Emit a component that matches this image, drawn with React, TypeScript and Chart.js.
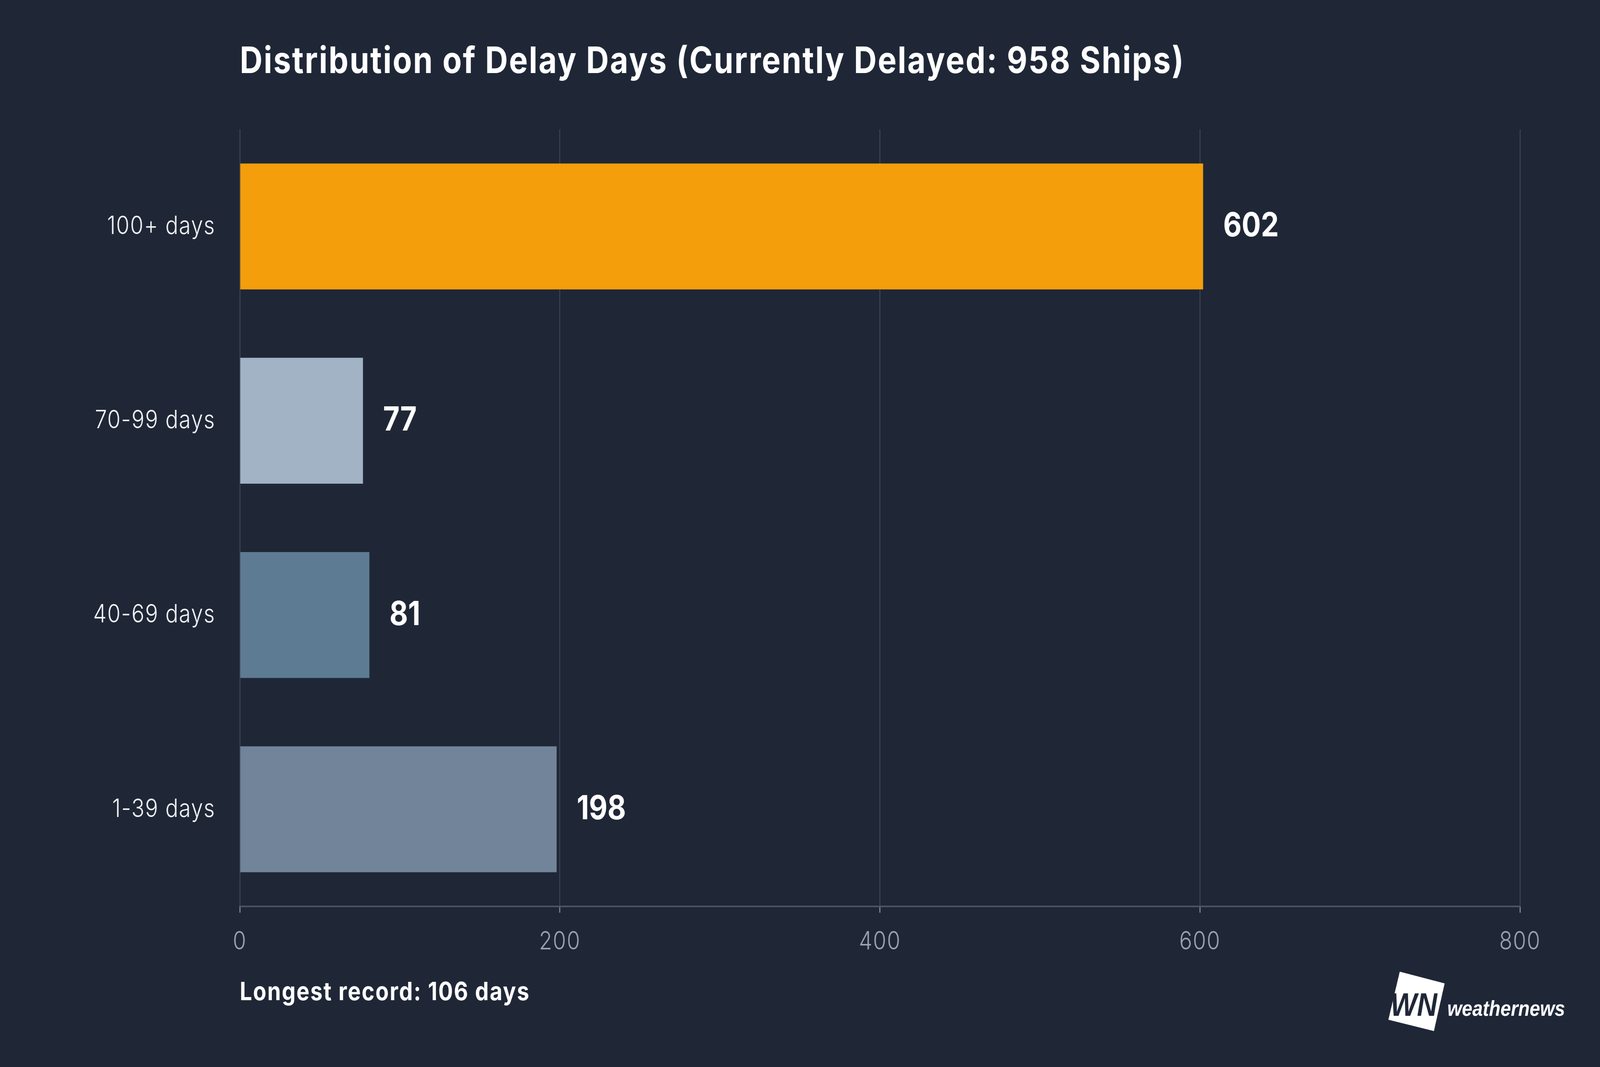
import { useEffect, useRef } from "react";
import { Chart, registerables } from "chart.js";

Chart.register(...registerables);

const categories = ["100+ days", "70-99 days", "40-69 days", "1-39 days"];
const shipCounts = [602, 77, 81, 198];
const barColors = ["#f59e0b", "#a2b3c6", "#5e7b94", "#718499"];
const xMin = 0;
const xMax = 800;
const xStep = 200;
const titleText = "Distribution of Delay Days (Currently Delayed: 958 Ships)";
const footnoteText = "Longest record: 106 days";
const brandMark = "WN";
const brandText = "weathernews";

const W = 4778;
const H = 2731;
const BG = "#1f2737";
const FONT = "Inter, 'Noto Sans', sans-serif";

const overlay = {
  id: "overlay",
  beforeDraw(chart: any) {
    const ctx = chart.ctx;
    ctx.save();
    ctx.fillStyle = BG;
    ctx.fillRect(0, 0, chart.width, chart.height);
    ctx.restore();
    (ctx as any).letterSpacing = "2px";
  },
  beforeDatasetsDraw(chart: any) {
    (chart.ctx as any).letterSpacing = "0px";
  },
  afterDatasetsDraw(chart: any) {
    const ctx = chart.ctx;
    const meta = chart.getDatasetMeta(0);
    ctx.save();
    ctx.fillStyle = "#ffffff";
    ctx.font = `700 85px ${FONT}`;
    ctx.textAlign = "left";
    ctx.textBaseline = "middle";
    meta.data.forEach((bar: any, i: number) => {
      ctx.fillText(String(shipCounts[i]), bar.x + 60, bar.y);
    });
    ctx.restore();
  },
  afterDraw(chart: any) {
    const ctx = chart.ctx;
    const left = chart.chartArea.left;
    ctx.save();
    ctx.fillStyle = "#ffffff";
    ctx.textAlign = "left";
    ctx.textBaseline = "alphabetic";
    ctx.font = `700 94px ${FONT}`;
    (ctx as any).letterSpacing = "3.4px";
    ctx.fillText(titleText, left, 187);
    ctx.font = `700 65px ${FONT}`;
    (ctx as any).letterSpacing = "2.8px";
    ctx.fillText(footnoteText, left, 2560);
    (ctx as any).letterSpacing = "0px";

    // brand logo
    ctx.beginPath();
    ctx.moveTo(4180, 2487);
    ctx.lineTo(4314, 2517);
    ctx.lineTo(4282, 2639);
    ctx.lineTo(4146, 2610);
    ctx.closePath();
    ctx.fillStyle = "#ffffff";
    ctx.fill();
    ctx.fillStyle = BG;
    ctx.font = `italic 700 84px 'Liberation Sans Narrow', 'Liberation Sans', sans-serif`;
    ctx.fillText(brandMark, 4152, 2600);
    ctx.fillStyle = "#ffffff";
    ctx.font = `italic 700 56px 'Liberation Sans Narrow', 'Liberation Sans', sans-serif`;
    ctx.fillText(brandText, 4322, 2600);
    ctx.restore();
  },
};

export default function App() {
  const ref = useRef<HTMLCanvasElement>(null);

  useEffect(() => {
    document.body.style.margin = "0";
    document.body.style.background = BG;
    const canvas = ref.current!;
    const chart = new Chart(canvas, {
      type: "bar",
      data: {
        labels: categories,
        datasets: [
          {
            data: shipCounts,
            backgroundColor: barColors,
            borderWidth: 0,
            categoryPercentage: 0.8,
            barPercentage: 0.81,
          },
        ],
      },
      options: {
        indexAxis: "y",
        responsive: false,
        animation: false,
        devicePixelRatio: 1,
        layout: { padding: { left: 0, right: 239, top: 331, bottom: 211 } },
        plugins: {
          legend: { display: false },
          tooltip: { enabled: false },
          title: { display: false },
        },
        scales: {
          x: {
            min: xMin,
            max: xMax,
            afterFit(scale: any) {
              scale.height = 200;
            },
            ticks: {
              stepSize: xStep,
              color: "#9ca3af",
              font: { family: FONT, size: 64, weight: "300" },
              padding: 36,
            },
            grid: {
              color: "#394354",
              lineWidth: 3,
              drawTicks: true,
              tickLength: 16,
              tickColor: "#8390a3",
            },
            border: { display: true, color: "#4b5567", width: 4 },
          },
          y: {
            afterFit(scale: any) {
              scale.width = 716;
            },
            ticks: {
              color: "#f3f4f6",
              font: { family: FONT, size: 64, weight: "300" },
              padding: 73,
            },
            grid: { display: false, drawTicks: false },
            border: { display: false },
          },
        },
      },
      plugins: [overlay],
    });
    return () => chart.destroy();
  }, []);

  return (
    <div style={{ width: "100vw", height: "100vh", overflow: "hidden", background: BG }}>
      <canvas ref={ref} width={W} height={H} style={{ width: "100vw", height: "100vh", display: "block" }} />
    </div>
  );
}
